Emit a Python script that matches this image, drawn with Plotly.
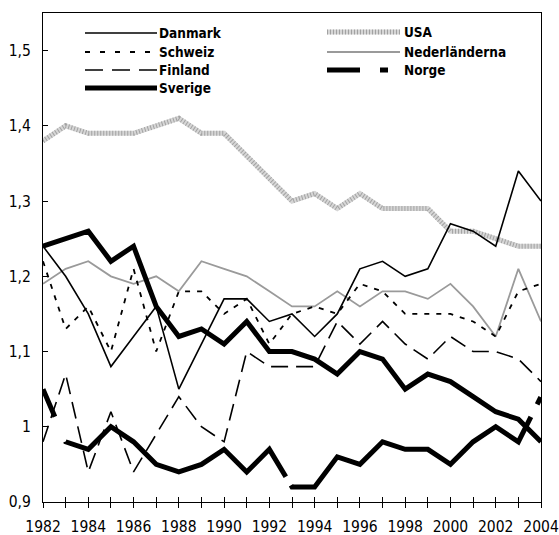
import plotly.graph_objects as go

# Yearly index values per country
years = list(range(1982, 2005))

danmark = [1.24, 1.20, 1.15, 1.08, 1.12, 1.16, 1.05, 1.11, 1.17, 1.17, 1.14, 1.15,
           1.12, 1.15, 1.21, 1.22, 1.20, 1.21, 1.27, 1.26, 1.24, 1.34, 1.30]
schweiz = [1.22, 1.13, 1.16, 1.10, 1.21, 1.10, 1.18, 1.18, 1.15, 1.17, 1.11, 1.15,
           1.16, 1.15, 1.19, 1.18, 1.15, 1.15, 1.15, 1.14, 1.12, 1.18, 1.19]
finland = [0.98, 1.07, 0.94, 1.02, 0.94, 0.99, 1.04, 1.00, 0.98, 1.10, 1.08, 1.08,
           1.08, 1.14, 1.11, 1.14, 1.11, 1.09, 1.12, 1.10, 1.10, 1.09, 1.06]
sverige = [1.24, 1.25, 1.26, 1.22, 1.24, 1.16, 1.12, 1.13, 1.11, 1.14, 1.10, 1.10,
           1.09, 1.07, 1.10, 1.09, 1.05, 1.07, 1.06, 1.04, 1.02, 1.01, 0.98]
usa = [1.38, 1.40, 1.39, 1.39, 1.39, 1.40, 1.41, 1.39, 1.39, 1.36, 1.33, 1.30,
       1.31, 1.29, 1.31, 1.29, 1.29, 1.29, 1.26, 1.26, 1.25, 1.24, 1.24]
nederlanderna = [1.19, 1.21, 1.22, 1.20, 1.19, 1.20, 1.18, 1.22, 1.21, 1.20, 1.18, 1.16,
                 1.16, 1.18, 1.16, 1.18, 1.18, 1.17, 1.19, 1.16, 1.12, 1.21, 1.14]
norge = [1.05, 0.98, 0.97, 1.00, 0.98, 0.95, 0.94, 0.95, 0.97, 0.94, 0.97, 0.92,
         0.92, 0.96, 0.95, 0.98, 0.97, 0.97, 0.95, 0.98, 1.00, 0.98, 1.04]

FONT = "DejaVu Sans Condensed, Liberation Sans, sans-serif"

# Line styles: (name, values, color, width, dash)
USA_BASE = "#d6d6d6"
USA_STRIPE = "#a2a2a2"
styles = [
    ("Nederländerna", nederlanderna, "#9a9a9a", 1.8, "solid"),
    ("Danmark", danmark, "black", 1.6, "solid"),
    ("Schweiz", schweiz, "black", 1.8, "5px,7px"),
    ("Finland", finland, "black", 1.6, "17px,8px"),
    ("Norge", norge, "black", 5, "30px,27px,286px,10px,306px,14px,8px,100px"),
    ("Sverige", sverige, "black", 5, "solid"),
]

fig = go.Figure()

# USA: thick light-grey line with a striped texture
fig.add_trace(go.Scatter(x=years, y=usa, mode="lines", name="USA",
                         line=dict(color=USA_BASE, width=5), showlegend=False,
                         hoverinfo="skip"))
fig.add_trace(go.Scatter(x=years, y=usa, mode="lines", name="USA",
                         line=dict(color=USA_STRIPE, width=5, dash="1px,2px"),
                         showlegend=False))

for name, vals, color, width, dash in styles:
    fig.add_trace(go.Scatter(x=years, y=vals, mode="lines", name=name,
                             line=dict(color=color, width=width, dash=dash),
                             showlegend=False))

# helper trace so the secondary x axis (inner tick marks) is drawn
fig.add_trace(go.Scatter(x=years, y=[None] * len(years), xaxis="x2",
                         mode="lines", showlegend=False, hoverinfo="skip"))

# Plot area in pixels: x 43..541, y 13..502
L, R, T, B = 43, 541, 13, 502
W, H = 559, 535


def px_x(px):
    return (px - L) / (R - L)


def px_y(py):
    return (B - py) / (B - T)


# Hand-drawn legend: two columns of sample lines with bold labels
legend_items = [
    # name, x0, x1, text x, y, color, width, dash
    ("Danmark", 85, 157, 157, 33, "black", 1.6, "solid"),
    ("Schweiz", 85, 157, 157, 52, "black", 1.8, "5px,10px"),
    ("Finland", 85, 157, 157, 70, "black", 1.6, "18px,9px"),
    ("Sverige", 85, 157, 157, 88, "black", 5, "solid"),
    ("Nederländerna", 327, 400, 402, 52, "#9a9a9a", 1.8, "solid"),
    ("Norge", 327, 400, 402, 70, "black", 5, "33px,20px,8px,20px"),
]
shapes = []
annotations = []
for name, x0, x1, tx, y, color, width, dash in legend_items:
    shapes.append(dict(type="line", xref="paper", yref="paper",
                       x0=px_x(x0), x1=px_x(x1), y0=px_y(y), y1=px_y(y),
                       line=dict(color=color, width=width, dash=dash)))
    annotations.append(dict(xref="paper", yref="paper", x=px_x(tx), y=px_y(y),
                            xanchor="left", yanchor="middle", showarrow=False,
                            text=f"<b>{name}</b>",
                            font=dict(family=FONT, size=13.5, color="black")))
# USA legend sample (striped)
for color, dash in ((USA_BASE, "solid"), (USA_STRIPE, "1px,2px")):
    shapes.append(dict(type="line", xref="paper", yref="paper",
                       x0=px_x(327), x1=px_x(400), y0=px_y(32), y1=px_y(32),
                       line=dict(color=color, width=5, dash=dash)))
annotations.append(dict(xref="paper", yref="paper", x=px_x(402), y=px_y(32),
                        xanchor="left", yanchor="middle", showarrow=False,
                        text="<b>USA</b>",
                        font=dict(family=FONT, size=13.5, color="black")))

fig.update_layout(
    width=W, height=H,
    margin=dict(l=L, r=W - R, t=T, b=H - B, autoexpand=False),
    paper_bgcolor="white", plot_bgcolor="white",
    separators=", ",
    font=dict(family=FONT, size=15.5, color="black"),
    shapes=shapes, annotations=annotations,
    xaxis=dict(range=[1982, 2004], tickmode="linear", tick0=1982, dtick=2,
               ticks="outside", ticklen=5, tickcolor="black", tickwidth=1,
               minor=dict(dtick=1, ticks="outside", ticklen=5,
                          tickcolor="black", tickwidth=1),
               showline=True, linecolor="black", linewidth=1, mirror=True,
               showgrid=False, zeroline=False, ticklabelstandoff=5,
               ticklabeloverflow="allow", automargin=False),
    xaxis2=dict(range=[1982, 2004], overlaying="x", anchor="y", side="bottom",
                tickmode="linear", tick0=1982, dtick=1, ticks="inside",
                ticklen=5, tickcolor="black", showticklabels=False,
                showgrid=False, zeroline=False, showline=False,
                automargin=False),
    yaxis=dict(range=[0.9, 1.55], tickmode="linear", tick0=0.9, dtick=0.1,
               ticks="inside", ticklen=5, tickcolor="black",
               showline=True, linecolor="black", linewidth=1, mirror=True,
               showgrid=False, zeroline=False, ticklabelstandoff=8,
               automargin=False),
)

fig.write_html("out.html")
